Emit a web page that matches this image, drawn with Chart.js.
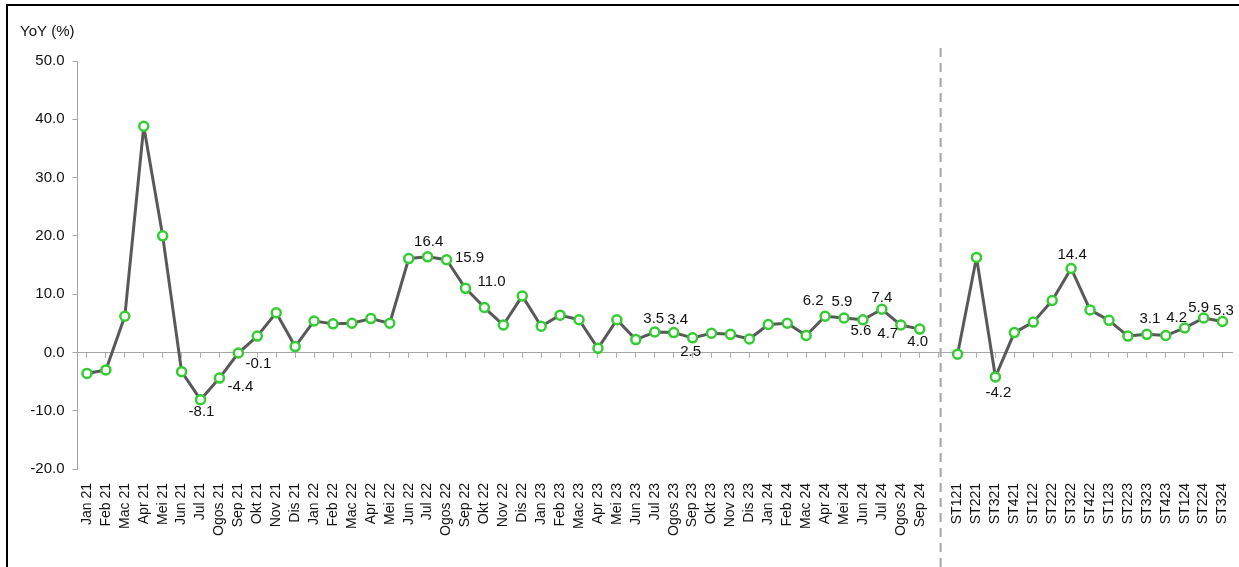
<!DOCTYPE html>
<html>
<head>
<meta charset="utf-8">
<script src="https://cdn.jsdelivr.net/npm/chart.js@4.4.0/dist/chart.umd.min.js"></script>
<style>
  html, body { margin: 0; padding: 0; background: #fff; }
  #frame {
    position: absolute; left: 0; top: 0; width: 1239px; height: 567px;
    overflow: hidden;
  }
  #border {
    position: absolute; left: 6px; top: 4px; width: 1240px; height: 580px;
    border-left: 2px solid #000; border-top: 2px solid #000;
    pointer-events: none;
  }
  canvas { position: absolute; left: 0; top: 0; }
</style>
</head>
<body>
<div id="frame">
  <canvas id="chart" width="1239" height="567"></canvas>
  <div id="border"></div>
</div>
<script>
// monthly YoY (%)
var monthLabels = ["Jan 21", "Feb 21", "Mac 21", "Apr 21", "Mei 21", "Jun 21", "Jul 21", "Ogos 21", "Sep 21", "Okt 21", "Nov 21", "Dis 21",
  "Jan 22", "Feb 22", "Mac 22", "Apr 22", "Mei 22", "Jun 22", "Jul 22", "Ogos 22", "Sep 22", "Okt 22", "Nov 22", "Dis 22",
  "Jan 23", "Feb 23", "Mac 23", "Apr 23", "Mei 23", "Jun 23", "Jul 23", "Ogos 23", "Sep 23", "Okt 23", "Nov 23", "Dis 23",
  "Jan 24", "Feb 24", "Mac 24", "Apr 24", "Mei 24", "Jun 24", "Jul 24", "Ogos 24", "Sep 24"];
var monthValues = [-3.6, -3.0, 6.2, 38.8, 20.0, -3.3, -8.1, -4.4, -0.1, 2.8, 6.8, 1.0,
  5.4, 4.9, 5.0, 5.8, 5.0, 16.1, 16.4, 15.9, 11.0, 7.7, 4.7, 9.7,
  4.5, 6.4, 5.6, 0.7, 5.6, 2.2, 3.5, 3.4, 2.5, 3.3, 3.1, 2.3,
  4.8, 5.0, 2.9, 6.2, 5.9, 5.6, 7.4, 4.7, 4.0];

// quarterly YoY (%)
var quarterLabels = ["ST121", "ST221", "ST321", "ST421", "ST122", "ST222", "ST322", "ST422",
  "ST123", "ST223", "ST323", "ST423", "ST124", "ST224", "ST324"];
var quarterValues = [-0.3, 16.3, -4.2, 3.4, 5.2, 8.9, 14.4, 7.3, 5.5, 2.8, 3.1, 2.9, 4.2, 5.9, 5.3];

var yTicks = [-20, -10, 0, 10, 20, 30, 40, 50];

// labels shown on the chart and where to put them (dx, dy from the point)
var labelOffsets = {
  "Jul 21": [1, 12], "Ogos 21": [21, 9], "Sep 21": [20, 11],
  "Jul 22": [1, -15], "Ogos 22": [23, -2], "Sep 22": [26, -6],
  "Jul 23": [-1, -13], "Ogos 23": [4, -13], "Sep 23": [-2, 14],
  "Apr 24": [-12, -15], "Mei 24": [-2, -16], "Jun 24": [-2, 11],
  "Jul 24": [0, -11], "Ogos 24": [-13, 9], "Sep 24": [-2, 13],
  "ST321": [3, 16], "ST322": [1, -14], "ST323": [3, -16],
  "ST124": [-8, -10], "ST224": [-5, -10], "ST324": [1, -11]
};

var labels = monthLabels.concat([""], quarterLabels);
var values = monthValues.concat([null], quarterValues);
var gapIndex = monthLabels.length;

var FONT = "'Liberation Sans', Arial, sans-serif";

var dividerPlugin = {
  id: "divider",
  beforeDatasetsDraw: function (chart) {
    var ctx = chart.ctx;
    var x = chart.scales.x.getPixelForValue(gapIndex) + 2;
    ctx.save();
    ctx.strokeStyle = "#a6a6a6";
    ctx.lineWidth = 2;
    ctx.setLineDash([9, 6]);
    ctx.beginPath();
    ctx.moveTo(x, 48);
    ctx.lineTo(x, chart.height);
    ctx.stroke();
    ctx.restore();
  }
};

var valueLabelPlugin = {
  id: "valueLabels",
  afterDatasetsDraw: function (chart) {
    var ctx = chart.ctx;
    var meta = chart.getDatasetMeta(0);
    ctx.save();
    ctx.font = "15px " + FONT;
    ctx.fillStyle = "#111";
    ctx.textAlign = "center";
    ctx.textBaseline = "middle";
    for (var i = 0; i < labels.length; i++) {
      var off = labelOffsets[labels[i]];
      if (!off || values[i] == null) continue;
      var pt = meta.data[i];
      ctx.fillText(values[i].toFixed(1), pt.x + off[0], pt.y + off[1]);
    }
    ctx.restore();
  }
};

var ctx = document.getElementById("chart").getContext("2d");
var chart = new Chart(ctx, {
  type: "line",
  data: {
    labels: labels,
    datasets: [
      {
        data: values,
        borderColor: "#595959",
        borderWidth: 3,
        borderJoinStyle: "round",
        pointRadius: 4.5,
        pointBorderWidth: 2.5,
        pointBorderColor: "#33cc33",
        pointBackgroundColor: "#ffffff",
        spanGaps: false,
        tension: 0
      }
    ]
  },
  options: {
    responsive: false,
    animation: false,
    devicePixelRatio: 1,
    layout: { padding: { left: 20, right: 7, top: 0, bottom: 0 } },
    plugins: {
      legend: { display: false },
      tooltip: { enabled: false },
      title: {
        display: true,
        text: "YoY (%)",
        align: "start",
        color: "#111",
        font: { family: FONT, size: 15, weight: "normal" },
        padding: { top: 23, bottom: 20 }
      }
    },
    scales: {
      x: {
        type: "category",
        offset: true,
        grid: { display: false },
        border: { display: false },
        ticks: {
          autoSkip: false,
          minRotation: 90,
          maxRotation: 90,
          padding: 6,
          color: "#111",
          font: { family: FONT, size: 14 }
        },
        afterFit: function (scale) {
          scale.height = 98;
          scale.paddingLeft = 0;
          scale.paddingRight = 0;
        }
      },
      x0: {
        type: "category",
        position: { y: 0 },
        offset: true,
        grid: { drawOnChartArea: false, drawTicks: true, tickLength: 5, color: "#b0b0b0" },
        border: { display: true, color: "#a6a6a6", width: 1 },
        ticks: { display: false },
        afterFit: function (scale) {
          scale.paddingLeft = 0;
          scale.paddingRight = 0;
        }
      },
      y: {
        min: -20,
        max: 50,
        afterBuildTicks: function (scale) {
          scale.ticks = yTicks.map(function (v) { return { value: v }; });
        },
        grid: { drawOnChartArea: false, drawTicks: true, tickLength: 5, color: "#a6a6a6" },
        border: { display: true, color: "#a6a6a6", width: 1 },
        ticks: {
          padding: 8,
          color: "#111",
          font: { family: FONT, size: 15 },
          callback: function (v) { return Number(v).toFixed(1); }
        },
        afterFit: function (scale) {
          scale.width = 57.5;
          scale.paddingTop = 0;
          scale.paddingBottom = 0;
        }
      }
    }
  },
  plugins: [dividerPlugin, valueLabelPlugin]
});
</script>
</body>
</html>
